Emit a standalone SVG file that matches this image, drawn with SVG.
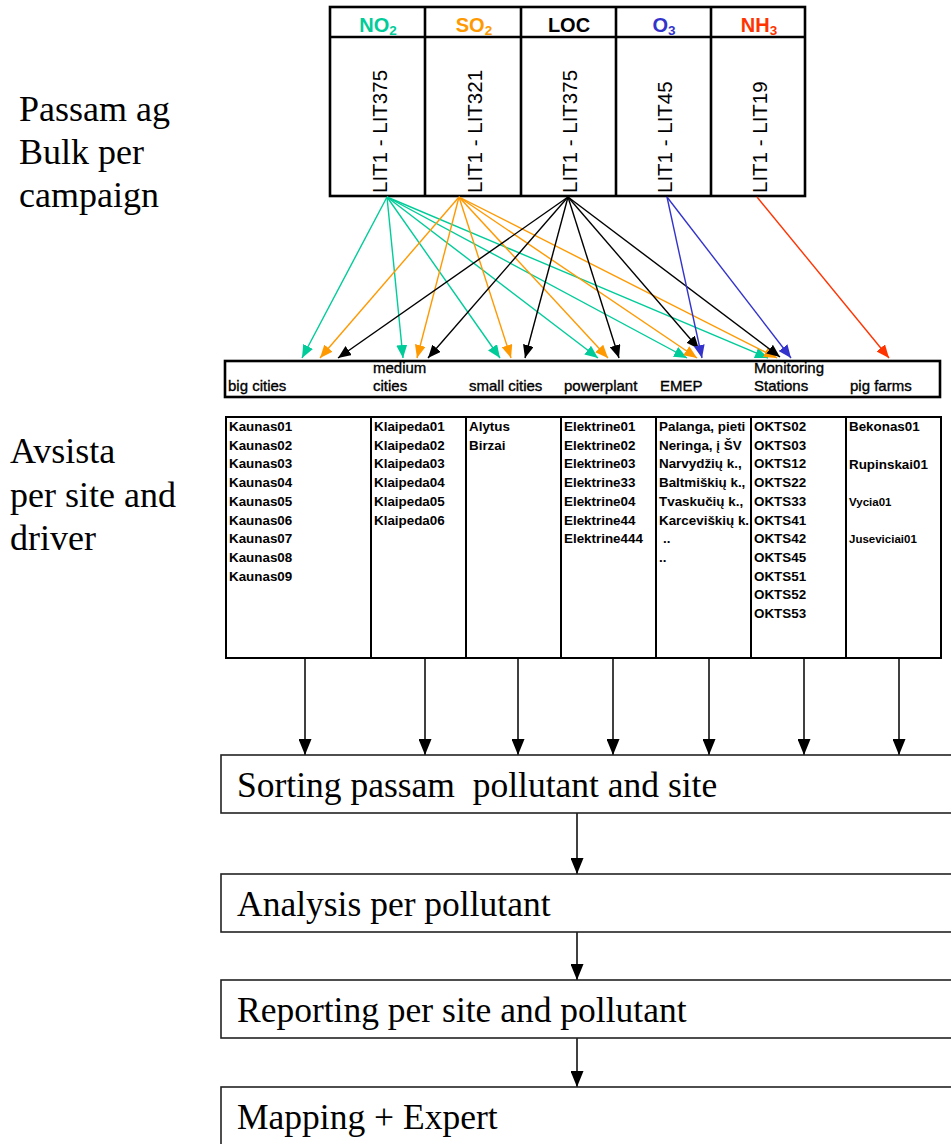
<svg xmlns="http://www.w3.org/2000/svg" width="951" height="1144" viewBox="0 0 951 1144">
<style>
.side{font-family:"Liberation Serif","Times New Roman",serif;font-size:36px;fill:#000}
.hdr{font-family:"Liberation Sans",Arial,sans-serif;font-size:20px;font-weight:bold;text-anchor:middle}
.sub{font-size:13.5px}
.vt{font-family:"Liberation Sans",Arial,sans-serif;font-size:20.5px;fill:#000}
.cat{font-family:"Liberation Sans",Arial,sans-serif;font-size:15px;fill:#000;stroke:#000;stroke-width:0.35}
.lst{font-family:"Liberation Sans",Arial,sans-serif;font-size:13.4px;font-weight:bold;fill:#000}
.sm{font-size:11.5px}
.box{fill:#fff;stroke:#222;stroke-width:1.6}
.step{font-family:"Liberation Serif","Times New Roman",serif;font-size:35.5px;fill:#000}
.thick{fill:none;stroke:#000;stroke-width:2.6}
.mid{fill:none;stroke:#000;stroke-width:2}
.a{fill:none;stroke-width:1.4}
.t{stroke:#00CC99;marker-end:url(#mT)}
.o{stroke:#FF9900;marker-end:url(#mO)}
.k{stroke:#000;marker-end:url(#mK)}
.b{stroke:#3333CC;marker-end:url(#mB)}
.r{stroke:#FF3300;marker-end:url(#mR)}
.down{fill:none;stroke:#000;stroke-width:1.5;marker-end:url(#mD)}
</style>
<defs>
<marker id="mT" markerUnits="userSpaceOnUse" markerWidth="13" markerHeight="11" refX="13" refY="5.5" orient="auto" viewBox="0 0 13 11"><path d="M0,0 L13,5.5 L0,11 z" fill="#00CC99"/></marker>
<marker id="mO" markerUnits="userSpaceOnUse" markerWidth="13" markerHeight="11" refX="13" refY="5.5" orient="auto" viewBox="0 0 13 11"><path d="M0,0 L13,5.5 L0,11 z" fill="#FF9900"/></marker>
<marker id="mK" markerUnits="userSpaceOnUse" markerWidth="13" markerHeight="11" refX="13" refY="5.5" orient="auto" viewBox="0 0 13 11"><path d="M0,0 L13,5.5 L0,11 z" fill="#000"/></marker>
<marker id="mB" markerUnits="userSpaceOnUse" markerWidth="13" markerHeight="11" refX="13" refY="5.5" orient="auto" viewBox="0 0 13 11"><path d="M0,0 L13,5.5 L0,11 z" fill="#3333CC"/></marker>
<marker id="mR" markerUnits="userSpaceOnUse" markerWidth="13" markerHeight="11" refX="13" refY="5.5" orient="auto" viewBox="0 0 13 11"><path d="M0,0 L13,5.5 L0,11 z" fill="#FF3300"/></marker>
<marker id="mD" markerUnits="userSpaceOnUse" markerWidth="16" markerHeight="13" refX="16" refY="6.5" orient="auto" viewBox="0 0 16 13"><path d="M0,0 L16,6.5 L0,13 z" fill="#000"/></marker>
<clipPath id="cEmep"><rect x="657" y="417" width="93" height="240"/></clipPath>
</defs>
<rect width="951" height="1144" fill="#fff"/>

<g id="side-labels">
<text class="side" x="19" y="121">Passam ag</text>
<text class="side" x="19" y="164">Bulk per</text>
<text class="side" x="19" y="207">campaign</text>
<text class="side" x="10" y="463">Avsista</text>
<text class="side" x="10" y="507">per site and</text>
<text class="side" x="10" y="550">driver</text>
</g>

<g id="pollutant-table">
<rect class="thick" x="330" y="7" width="475" height="189"/>
<line class="thick" x1="330" y1="37" x2="805" y2="37"/>
<line class="thick" x1="425" y1="7" x2="425" y2="196"/>
<line class="thick" x1="521" y1="7" x2="521" y2="196"/>
<line class="thick" x1="616" y1="7" x2="616" y2="196"/>
<line class="thick" x1="711" y1="7" x2="711" y2="196"/>
<g id="col-no2">
<text class="hdr" x="378" y="32" fill="#00CC99">NO<tspan class="sub" dy="3">2</tspan></text>
<text class="vt" transform="translate(387,193) rotate(-90)">LIT1 - LIT375</text>
</g>
<g id="col-so2">
<text class="hdr" x="474" y="32" fill="#FF9900">SO<tspan class="sub" dy="3">2</tspan></text>
<text class="vt" transform="translate(482,193) rotate(-90)">LIT1 - LIT321</text>
</g>
<g id="col-loc">
<text class="hdr" x="569" y="32" fill="#000">LOC</text>
<text class="vt" transform="translate(577,193) rotate(-90)">LIT1 - LIT375</text>
</g>
<g id="col-o3">
<text class="hdr" x="664" y="32" fill="#3333CC">O<tspan class="sub" dy="3">3</tspan></text>
<text class="vt" transform="translate(672,193) rotate(-90)">LIT1 - LIT45</text>
</g>
<g id="col-nh3">
<text class="hdr" x="759" y="32" fill="#FF3300">NH<tspan class="sub" dy="3">3</tspan></text>
<text class="vt" transform="translate(767,193) rotate(-90)">LIT1 - LIT19</text>
</g>
</g>

<g id="connectors">
<line class="a t" x1="387" y1="197" x2="302" y2="358"/>
<line class="a t" x1="387" y1="197" x2="403" y2="358"/>
<line class="a t" x1="387" y1="197" x2="500" y2="358"/>
<line class="a t" x1="387" y1="197" x2="598" y2="358"/>
<line class="a t" x1="387" y1="197" x2="687" y2="358"/>
<line class="a t" x1="387" y1="197" x2="768" y2="358"/>
<line class="a o" x1="459" y1="197" x2="320" y2="358"/>
<line class="a o" x1="459" y1="197" x2="417" y2="358"/>
<line class="a o" x1="459" y1="197" x2="511" y2="358"/>
<line class="a o" x1="459" y1="197" x2="608" y2="358"/>
<line class="a o" x1="459" y1="197" x2="697" y2="358"/>
<line class="a o" x1="459" y1="197" x2="777" y2="358"/>
<line class="a k" x1="568" y1="197" x2="338" y2="358"/>
<line class="a k" x1="568" y1="197" x2="428" y2="358"/>
<line class="a k" x1="568" y1="197" x2="525" y2="358"/>
<line class="a k" x1="568" y1="197" x2="619" y2="358"/>
<line class="a k" x1="568" y1="197" x2="699" y2="349"/>
<line class="a k" x1="568" y1="197" x2="780" y2="357"/>
<line class="a b" x1="667" y1="197" x2="702" y2="358"/>
<line class="a b" x1="667" y1="197" x2="791" y2="358"/>
<line class="a r" x1="757" y1="197" x2="889" y2="358"/>
<line class="down" x1="305" y1="659" x2="305" y2="755"/>
<line class="down" x1="425" y1="659" x2="425" y2="755"/>
<line class="down" x1="518" y1="659" x2="518" y2="755"/>
<line class="down" x1="613" y1="659" x2="613" y2="755"/>
<line class="down" x1="709" y1="659" x2="709" y2="755"/>
<line class="down" x1="804" y1="659" x2="804" y2="755"/>
<line class="down" x1="899" y1="659" x2="899" y2="755"/>
<line class="down" x1="577" y1="813" x2="577" y2="874"/>
<line class="down" x1="577" y1="932" x2="577" y2="980"/>
<line class="down" x1="577" y1="1038" x2="577" y2="1087"/>
</g>

<g id="category-bar">
<rect class="thick" x="225" y="361" width="715" height="36"/>
<text class="cat" x="228" y="391">big cities</text>
<text class="cat" x="373" y="373">medium</text>
<text class="cat" x="373" y="391">cities</text>
<text class="cat" x="469" y="391">small cities</text>
<text class="cat" x="564" y="391">powerplant</text>
<text class="cat" x="660" y="391">EMEP</text>
<text class="cat" x="754" y="373">Monitoring</text>
<text class="cat" x="754" y="391">Stations</text>
<text class="cat" x="850" y="391">pig farms</text>
</g>

<g id="site-lists">
<rect class="mid" x="226" y="417" width="715" height="241"/>
<line class="mid" x1="371" y1="417" x2="371" y2="658"/>
<line class="mid" x1="466" y1="417" x2="466" y2="658"/>
<line class="mid" x1="561" y1="417" x2="561" y2="658"/>
<line class="mid" x1="656" y1="417" x2="656" y2="658"/>
<line class="mid" x1="751" y1="417" x2="751" y2="658"/>
<line class="mid" x1="846" y1="417" x2="846" y2="658"/>
<g id="list-big">
<text class="lst" x="229" y="431">Kaunas01</text>
<text class="lst" x="229" y="449.7">Kaunas02</text>
<text class="lst" x="229" y="468.4">Kaunas03</text>
<text class="lst" x="229" y="487.1">Kaunas04</text>
<text class="lst" x="229" y="505.8">Kaunas05</text>
<text class="lst" x="229" y="524.5">Kaunas06</text>
<text class="lst" x="229" y="543.2">Kaunas07</text>
<text class="lst" x="229" y="561.9">Kaunas08</text>
<text class="lst" x="229" y="580.6">Kaunas09</text>
</g>
<g id="list-medium">
<text class="lst" x="374" y="431">Klaipeda01</text>
<text class="lst" x="374" y="449.7">Klaipeda02</text>
<text class="lst" x="374" y="468.4">Klaipeda03</text>
<text class="lst" x="374" y="487.1">Klaipeda04</text>
<text class="lst" x="374" y="505.8">Klaipeda05</text>
<text class="lst" x="374" y="524.5">Klaipeda06</text>
</g>
<g id="list-small">
<text class="lst" x="469" y="431">Alytus</text>
<text class="lst" x="469" y="449.7">Birzai</text>
</g>
<g id="list-power">
<text class="lst" x="564" y="431">Elektrine01</text>
<text class="lst" x="564" y="449.7">Elektrine02</text>
<text class="lst" x="564" y="468.4">Elektrine03</text>
<text class="lst" x="564" y="487.1">Elektrine33</text>
<text class="lst" x="564" y="505.8">Elektrine04</text>
<text class="lst" x="564" y="524.5">Elektrine44</text>
<text class="lst" x="564" y="543.2">Elektrine444</text>
</g>
<g id="list-emep" clip-path="url(#cEmep)">
<text class="lst" x="659" y="431">Palanga, pieti</text>
<text class="lst" x="659" y="449.7">Neringa, į ŠV</text>
<text class="lst" x="659" y="468.4">Narvydžių k.,</text>
<text class="lst" x="659" y="487.1">Baltmiškių k.,</text>
<text class="lst" x="659" y="505.8">Tvaskučių k.,</text>
<text class="lst" x="659" y="524.5">Karceviškių k.</text>
<text class="lst" x="663" y="543.2">..</text>
<text class="lst" x="659" y="561.9">..</text>
</g>
<g id="list-monitoring">
<text class="lst" x="754" y="431">OKTS02</text>
<text class="lst" x="754" y="449.7">OKTS03</text>
<text class="lst" x="754" y="468.4">OKTS12</text>
<text class="lst" x="754" y="487.1">OKTS22</text>
<text class="lst" x="754" y="505.8">OKTS33</text>
<text class="lst" x="754" y="524.5">OKTS41</text>
<text class="lst" x="754" y="543.2">OKTS42</text>
<text class="lst" x="754" y="561.9">OKTS45</text>
<text class="lst" x="754" y="580.6">OKTS51</text>
<text class="lst" x="754" y="599.3">OKTS52</text>
<text class="lst" x="754" y="618">OKTS53</text>
</g>
<g id="list-pig">
<text class="lst" x="849" y="431">Bekonas01</text>
<text class="lst" x="849" y="469">Rupinskai01</text>
<text class="lst sm" x="849" y="506">Vycia01</text>
<text class="lst sm" x="849" y="543">Juseviciai01</text>
</g>
</g>

<g id="step-sorting">
<rect class="box" x="221" y="755" width="740" height="58"/>
<text class="step" x="237" y="797" xml:space="preserve">Sorting passam  pollutant and site</text>
</g>
<g id="step-analysis">
<rect class="box" x="221" y="874" width="740" height="58"/>
<text class="step" x="237" y="916">Analysis per pollutant</text>
</g>
<g id="step-reporting">
<rect class="box" x="221" y="980" width="740" height="58"/>
<text class="step" x="237" y="1022">Reporting per site and pollutant</text>
</g>
<g id="step-mapping">
<rect class="box" x="221" y="1087" width="740" height="70"/>
<text class="step" x="237" y="1129">Mapping + Expert</text>
</g>
</svg>
